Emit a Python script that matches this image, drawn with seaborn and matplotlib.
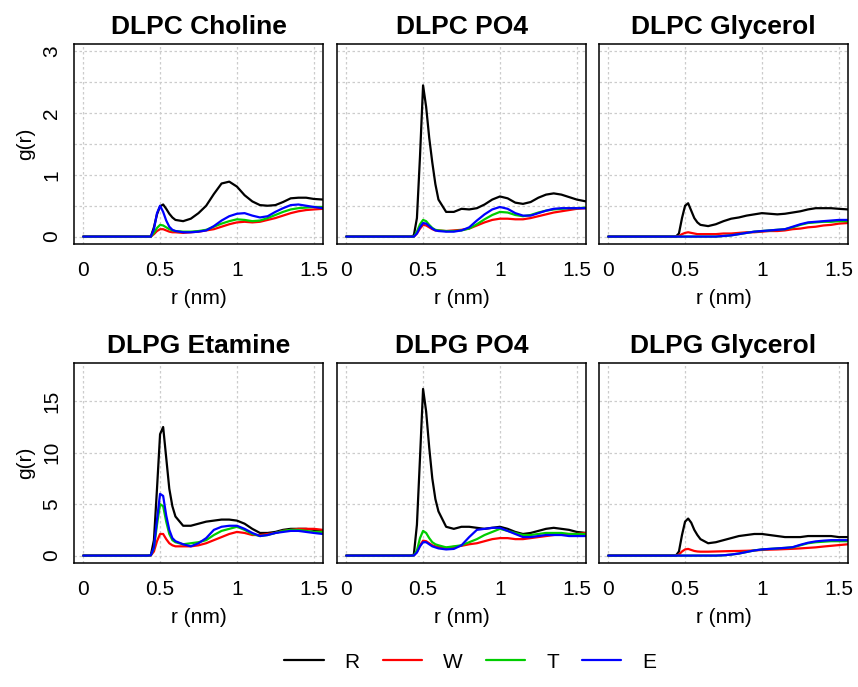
import pandas as pd
import matplotlib.pyplot as plt
import seaborn as sns
from matplotlib.lines import Line2D

# r grid (nm), same for every panel
r_nm = [0.0, 0.42, 0.44, 0.46, 0.48, 0.50, 0.52, 0.54, 0.56, 0.58, 0.60, 0.65, 0.70, 0.75, 0.80,
        0.85, 0.90, 0.95, 1.00, 1.05, 1.10, 1.15, 1.20, 1.25, 1.30, 1.35, 1.40, 1.45, 1.50, 1.56]

panel_titles = ["DLPC Choline", "DLPC PO4", "DLPC Glycerol",
                "DLPG Etamine", "DLPG PO4", "DLPG Glycerol"]
series_names = ["R", "W", "T", "E"]
series_colors = ["#000000", "#FF0000", "#00CD00", "#0000FF"]

# DLPC Choline
choline_R = [0, 0, 0, 0.15, 0.36, 0.49, 0.52, 0.45, 0.37, 0.31, 0.27, 0.25, 0.29, 0.38, 0.50,
             0.69, 0.86, 0.89, 0.81, 0.67, 0.57, 0.51, 0.50, 0.51, 0.56, 0.62, 0.63, 0.63, 0.61, 0.60]
choline_W = [0, 0, 0, 0.04, 0.09, 0.12, 0.12, 0.10, 0.08, 0.07, 0.07, 0.06, 0.07, 0.08, 0.10,
             0.12, 0.16, 0.20, 0.23, 0.24, 0.23, 0.24, 0.27, 0.30, 0.34, 0.38, 0.41, 0.43, 0.44, 0.45]
choline_T = [0, 0, 0, 0.06, 0.14, 0.19, 0.18, 0.15, 0.12, 0.10, 0.09, 0.08, 0.08, 0.09, 0.11,
             0.16, 0.21, 0.25, 0.28, 0.27, 0.25, 0.26, 0.30, 0.35, 0.40, 0.44, 0.46, 0.47, 0.48, 0.48]
choline_E = [0, 0, 0, 0.12, 0.38, 0.50, 0.40, 0.26, 0.16, 0.11, 0.09, 0.07, 0.07, 0.08, 0.10,
             0.17, 0.26, 0.33, 0.37, 0.38, 0.34, 0.31, 0.33, 0.40, 0.46, 0.51, 0.52, 0.50, 0.48, 0.46]

# DLPC PO4
pc_po4_R = [0, 0, 0.02, 0.30, 1.30, 2.45, 2.10, 1.60, 1.20, 0.85, 0.60, 0.40, 0.40, 0.45, 0.44,
            0.46, 0.52, 0.60, 0.65, 0.62, 0.55, 0.53, 0.56, 0.63, 0.68, 0.70, 0.68, 0.64, 0.60, 0.57]
pc_po4_W = [0, 0, 0, 0.05, 0.13, 0.19, 0.18, 0.15, 0.12, 0.10, 0.10, 0.09, 0.10, 0.11, 0.13,
            0.18, 0.23, 0.27, 0.29, 0.29, 0.28, 0.28, 0.30, 0.33, 0.36, 0.39, 0.41, 0.43, 0.45, 0.46]
pc_po4_T = [0, 0, 0, 0.08, 0.20, 0.27, 0.25, 0.19, 0.14, 0.11, 0.10, 0.09, 0.09, 0.10, 0.13,
            0.20, 0.28, 0.35, 0.40, 0.39, 0.35, 0.33, 0.35, 0.39, 0.42, 0.44, 0.45, 0.46, 0.46, 0.47]
pc_po4_E = [0, 0, 0, 0.05, 0.15, 0.22, 0.21, 0.17, 0.13, 0.10, 0.09, 0.08, 0.08, 0.10, 0.15,
            0.26, 0.36, 0.44, 0.48, 0.45, 0.38, 0.34, 0.34, 0.38, 0.42, 0.45, 0.46, 0.46, 0.46, 0.46]

# DLPC Glycerol
pc_gly_R = [0, 0, 0, 0.05, 0.30, 0.50, 0.54, 0.42, 0.30, 0.23, 0.19, 0.17, 0.20, 0.25, 0.29,
            0.31, 0.34, 0.36, 0.38, 0.37, 0.36, 0.37, 0.39, 0.41, 0.44, 0.46, 0.46, 0.46, 0.45, 0.44]
pc_gly_W = [0, 0, 0, 0.01, 0.04, 0.06, 0.07, 0.06, 0.05, 0.04, 0.04, 0.04, 0.04, 0.05, 0.05,
            0.06, 0.07, 0.07, 0.08, 0.09, 0.09, 0.10, 0.12, 0.13, 0.15, 0.16, 0.18, 0.19, 0.21, 0.22]
pc_gly_T = [0, 0, 0, 0, 0, 0, 0, 0, 0, 0, 0, 0, 0, 0.01, 0.02,
            0.04, 0.06, 0.08, 0.09, 0.10, 0.11, 0.12, 0.15, 0.19, 0.22, 0.23, 0.24, 0.24, 0.25, 0.25]
pc_gly_E = [0, 0, 0, 0, 0, 0, 0, 0, 0, 0, 0, 0, 0, 0.01, 0.02,
            0.04, 0.06, 0.08, 0.09, 0.10, 0.11, 0.12, 0.16, 0.20, 0.23, 0.24, 0.25, 0.26, 0.27, 0.27]

# DLPG Etamine
etamine_R = [0, 0, 0.05, 1.5, 6.5, 11.8, 12.5, 9.5, 6.5, 4.8, 3.8, 2.9, 2.9, 3.1, 3.3,
             3.4, 3.5, 3.5, 3.4, 3.1, 2.6, 2.2, 2.2, 2.3, 2.5, 2.6, 2.6, 2.6, 2.5, 2.4]
etamine_W = [0, 0, 0.02, 0.4, 1.4, 2.1, 2.1, 1.6, 1.2, 1.0, 0.9, 0.9, 0.9, 1.0, 1.2,
             1.5, 1.8, 2.1, 2.3, 2.2, 2.0, 2.0, 2.1, 2.2, 2.4, 2.5, 2.6, 2.6, 2.6, 2.5]
etamine_T = [0, 0, 0.03, 0.7, 3.0, 5.0, 4.8, 3.3, 2.1, 1.5, 1.3, 1.1, 1.2, 1.3, 1.5,
             2.0, 2.4, 2.6, 2.8, 2.5, 2.1, 1.9, 2.0, 2.2, 2.4, 2.5, 2.5, 2.4, 2.3, 2.3]
etamine_E = [0, 0, 0.03, 0.8, 3.5, 6.0, 5.8, 3.9, 2.5, 1.7, 1.4, 1.1, 0.9, 1.2, 1.7,
             2.5, 2.8, 2.9, 2.9, 2.6, 2.2, 1.9, 2.0, 2.2, 2.3, 2.4, 2.4, 2.3, 2.2, 2.1]

# DLPG PO4
pg_po4_R = [0, 0, 0.1, 3.0, 9.5, 16.2, 14.0, 10.5, 7.5, 5.5, 4.3, 2.8, 2.6, 2.8, 2.8,
            2.7, 2.6, 2.7, 2.8, 2.6, 2.3, 2.1, 2.2, 2.4, 2.6, 2.7, 2.6, 2.5, 2.3, 2.2]
pg_po4_W = [0, 0, 0.02, 0.35, 1.0, 1.45, 1.4, 1.2, 1.0, 0.9, 0.85, 0.75, 0.85, 0.95, 1.1,
            1.2, 1.4, 1.6, 1.7, 1.7, 1.6, 1.6, 1.7, 1.8, 1.9, 2.0, 2.1, 2.1, 2.1, 2.2]
pg_po4_T = [0, 0, 0.02, 0.5, 1.7, 2.4, 2.2, 1.7, 1.3, 1.1, 1.0, 0.8, 0.9, 1.0, 1.3,
            1.6, 2.0, 2.3, 2.6, 2.4, 2.2, 2.0, 2.0, 2.1, 2.2, 2.2, 2.2, 2.1, 2.1, 2.1]
pg_po4_E = [0, 0, 0.01, 0.3, 0.9, 1.3, 1.3, 1.1, 0.9, 0.8, 0.7, 0.6, 0.65, 1.0, 1.8,
            2.5, 2.6, 2.7, 2.7, 2.4, 2.1, 1.8, 1.8, 1.9, 2.0, 2.0, 2.0, 1.9, 1.9, 1.9]

# DLPG Glycerol
pg_gly_R = [0, 0, 0, 0.4, 2.0, 3.3, 3.6, 3.2, 2.5, 2.0, 1.6, 1.2, 1.3, 1.5, 1.7,
            1.9, 2.0, 2.1, 2.1, 2.0, 1.9, 1.8, 1.8, 1.8, 1.9, 1.9, 1.9, 1.9, 1.8, 1.8]
pg_gly_W = [0, 0, 0, 0.1, 0.4, 0.6, 0.65, 0.55, 0.45, 0.4, 0.38, 0.38, 0.4, 0.42, 0.44,
            0.45, 0.47, 0.5, 0.55, 0.58, 0.6, 0.63, 0.66, 0.7, 0.75, 0.8, 0.88, 0.95, 1.02, 1.1]
pg_gly_T = [0, 0, 0, 0, 0, 0, 0, 0, 0, 0, 0, 0, 0, 0.03, 0.1,
            0.2, 0.35, 0.5, 0.6, 0.65, 0.7, 0.75, 0.8, 1.0, 1.2, 1.3, 1.35, 1.4, 1.4, 1.4]
pg_gly_E = [0, 0, 0, 0, 0, 0, 0, 0, 0, 0, 0, 0, 0, 0.03, 0.1,
            0.2, 0.35, 0.5, 0.6, 0.65, 0.7, 0.75, 0.82, 1.05, 1.25, 1.38, 1.45, 1.5, 1.5, 1.5]

panel_data = [
    [choline_R, choline_W, choline_T, choline_E],
    [pc_po4_R, pc_po4_W, pc_po4_T, pc_po4_E],
    [pc_gly_R, pc_gly_W, pc_gly_T, pc_gly_E],
    [etamine_R, etamine_W, etamine_T, etamine_E],
    [pg_po4_R, pg_po4_W, pg_po4_T, pg_po4_E],
    [pg_gly_R, pg_gly_W, pg_gly_T, pg_gly_E],
]

rows = []
for title, series in zip(panel_titles, panel_data):
    for name, vals in zip(series_names, series):
        for r, g in zip(r_nm, vals):
            rows.append({"panel": title, "type": name, "r": r, "g": g})
df = pd.DataFrame(rows)

sns.set_style("white")
plt.rcParams["font.family"] = ["Liberation Sans", "DejaVu Sans"]
plt.rcParams["text.color"] = "black"
plt.rcParams["axes.labelcolor"] = "black"
plt.rcParams["xtick.color"] = "black"
plt.rcParams["ytick.color"] = "black"

fig = plt.figure(figsize=(8.58, 6.87), dpi=100)

col_left = [74 / 858, 337 / 858, 599 / 858]
col_w = 249 / 858
row_bottom = [1 - 244 / 687, 1 - 563 / 687]
row_h = 200 / 687

palette = dict(zip(series_names, series_colors))

for i, title in enumerate(panel_titles):
    row, col = divmod(i, 3)
    ax = fig.add_axes([col_left[col], row_bottom[row], col_w, row_h])
    sub = df[df["panel"] == title]
    sns.lineplot(data=sub, x="r", y="g", hue="type", hue_order=series_names,
                 palette=palette, linewidth=1.6, errorbar=None, legend=False, ax=ax)

    ax.set_xlim(-0.06, 1.56)
    ax.set_xticks([0, 0.5, 1, 1.5])
    ax.set_xticklabels(["0", "0.5", "1", "1.5"])
    if row == 0:
        ax.set_ylim(-0.12, 3.12)
        ax.set_yticks([0, 1, 2, 3])
        ax.set_yticks([0.5, 1.5, 2.5], minor=True)
    else:
        ax.set_ylim(-0.72, 18.72)
        ax.set_yticks([0, 5, 10, 15])

    ax.grid(True, which="both", color="#cccccc", linestyle=(0, (2, 2)), linewidth=0.9)
    ax.set_axisbelow(True)
    for s in ax.spines.values():
        s.set_visible(True)
        s.set_color("black")
        s.set_linewidth(1.1)

    ax.tick_params(axis="both", which="major", direction="in", length=4.5, width=1,
                   labelsize=15, color="black", labelcolor="black")
    ax.tick_params(axis="x", pad=12)
    ax.tick_params(axis="y", which="minor", length=0)
    ax.tick_params(axis="y", pad=9)
    if col == 0:
        for lab in ax.get_yticklabels():
            lab.set_rotation(90)
            lab.set_va("center")
        ax.set_ylabel("g(r)", fontsize=15)
        ax.yaxis.set_label_coords(-0.155, 0.5)
    else:
        ax.tick_params(axis="y", left=False, labelleft=False)
        ax.set_ylabel("")
    ax.set_xlabel("r (nm)", fontsize=15, labelpad=7)
    ax.set_title(title, fontsize=19, fontweight="bold", pad=7)

handles = [Line2D([0], [0], color=c, linewidth=1.6) for c in series_colors]
fig.legend(handles, series_names, loc="lower center", bbox_to_anchor=(0.548, -0.005),
           ncol=4, frameon=False, fontsize=15, handlelength=1.9, handletextpad=1.0,
           columnspacing=1.1)

fig.savefig("out.png", dpi=100)
